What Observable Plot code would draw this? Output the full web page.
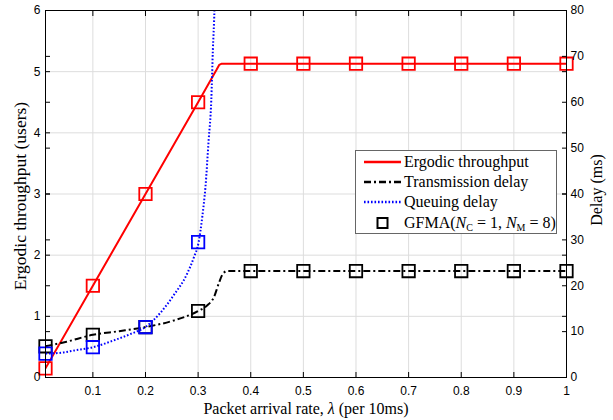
<!DOCTYPE html>
<html><head><meta charset="utf-8">
<script src="https://cdn.jsdelivr.net/npm/d3@7"></script>
<script src="https://cdn.jsdelivr.net/npm/@observablehq/plot@0.6"></script>
<style>
body{margin:0;background:#fff}
#wrap{position:relative;width:613px;height:420px}
#legend{position:absolute;left:355px;top:150px;width:200px;height:82px;border:1px solid #666;background:#fff;font-family:"Liberation Serif",serif;font-size:16px;color:#000}
.row{position:absolute;left:0;height:20px;display:flex;align-items:center;white-space:nowrap}
.row svg{margin-left:8px;margin-right:3px}
sub{font-size:10px;vertical-align:-3px;line-height:0}
</style></head>
<body><div id="wrap"><div id="legend"></div></div>
<script>
// ---- data ----
const xTicks = [0.1,0.2,0.3,0.4,0.5,0.6,0.7,0.8,0.9,1];
const leftTicks = [0,1,2,3,4,5,6];
const rightTicks = [0,10,20,30,40,50,60,70,80];
const markLambda = [0.01,0.1,0.2,0.3,0.4,0.5,0.6,0.7,0.8,0.9,1];
const thrMarks = [0.15,1.5,3.0,4.5,5.13,5.13,5.13,5.13,5.13,5.13,5.13];
const txMarks = [6.8,9.3,11.0,14.5,23.2,23.2,23.2,23.2,23.2,23.2,23.2];
const qLambda = [0.01,0.1,0.2,0.3];
const qMarks = [5.2,6.6,11.0,29.5];
const thrCurveX = [0.01,0.1,0.2,0.3,0.335,0.34,0.345,0.4,1];
const thrCurveY = [0.15,1.5,3.0,4.5,5.03,5.11,5.13,5.13,5.13];
const txCurveX = [0.01,0.05,0.1,0.15,0.2,0.25,0.3,0.317,0.33,0.339,0.347,0.355,0.4,1];
const txCurveY = [6.8,7.8,9.3,10.1,11.0,12.3,14.5,15.7,17.5,20.4,22.6,23.2,23.2,23.2];
const qCurveX = [0.01,0.04,0.065,0.1,0.14,0.172,0.2,0.229,0.254,0.279,0.292,0.301,0.308,0.314,0.32,0.325,0.328,0.331,0.334];
const qCurveY = [5.2,5.4,5.9,6.6,8.1,9.5,11.0,14.2,18.0,22.6,26.2,29.5,35.1,41.6,51.7,60.4,71.3,80,95];

// right axis (ms) mapped to left axis (users): 80 ms <-> 6 users
const k = 6/80;
const rows = (xs, ys, f=1) => xs.map((x,i)=>({x, y: ys[i]*f}));
const thrLine = rows(thrCurveX, thrCurveY);
const txLine = rows(txCurveX, txCurveY, k);
const qLine = rows(qCurveX, qCurveY, k);
const thrPts = rows(markLambda, thrMarks);
const txPts = rows(markLambda, txMarks, k);
const qPts = rows(qLambda, qMarks, k);

const RED = "#ff0000", BLUE = "#0000ff", BLACK = "#000000", GRID = "#dddddd";
const serif = "Liberation Serif, Times New Roman, serif";
const DASHDOT = "7,3,2,3", DOT = "1.6,1.9";

const plot = Plot.plot({
  width: 613, height: 420,
  marginLeft: 45, marginRight: 47, marginTop: 10, marginBottom: 43,
  style: {fontFamily: "Liberation Sans, Arial, sans-serif", fontSize: "12px", color: "#000", background: "#fff"},
  x: {domain: [0.01, 1]},
  y: {domain: [0, 6]},
  marks: [
    Plot.gridX(xTicks.slice(0, -1), {stroke: GRID, strokeOpacity: 1}),
    Plot.gridY(leftTicks.slice(1, -1), {stroke: GRID, strokeOpacity: 1}),
    Plot.line(thrLine, {x: "x", y: "y", stroke: RED, strokeWidth: 2, clip: true}),
    Plot.dot(thrPts, {x: "x", y: "y", symbol: "square", r: 7, stroke: RED, strokeWidth: 1.8, fill: "none"}),
    Plot.line(txLine, {x: "x", y: "y", stroke: BLACK, strokeWidth: 2, strokeDasharray: DASHDOT, strokeLinecap: "butt", curve: "monotone-x", clip: true}),
    Plot.dot(txPts, {x: "x", y: "y", symbol: "square", r: 7, stroke: BLACK, strokeWidth: 1.8, fill: "none"}),
    Plot.line(qLine, {x: "x", y: "y", stroke: BLUE, strokeWidth: 2, strokeDasharray: DOT, strokeLinecap: "butt", curve: "monotone-x", clip: true}),
    Plot.dot(qPts, {x: "x", y: "y", symbol: "square", r: 7, stroke: BLUE, strokeWidth: 1.8, fill: "none"}),
    Plot.frame({stroke: "#000"}),
    // bottom & top x axes (inward ticks)
    Plot.axisX(xTicks, {anchor: "bottom", tickSize: -5, tickPadding: 14, label: null, tickFormat: d => d === 1 ? "1" : String(d)}),
    Plot.axisX(xTicks, {anchor: "top", tickSize: -5, label: null, tickFormat: () => ""}),
    // left axis: labels in users, plus mirrored ms ticks
    Plot.axisY(leftTicks, {anchor: "left", tickSize: -5, tickPadding: 10, label: null, tickFormat: d => String(d)}),
    Plot.axisY(rightTicks.map(d => d*k), {anchor: "left", tickSize: -5, label: null, tickFormat: () => ""}),
    // right axis: labels in ms, plus mirrored users ticks
    Plot.axisY(rightTicks.map(d => d*k), {anchor: "right", tickSize: -5, tickPadding: 9, label: null, tickFormat: d => String(Math.round(d/k))}),
    Plot.axisY(leftTicks, {anchor: "right", tickSize: -5, label: null, tickFormat: () => ""}),
    // axis titles
    Plot.text(["Packet arrival rate, λ (per 10ms)"], {frameAnchor: "bottom", dy: 31, text: d => d, fontFamily: serif, fontSize: 16, lineAnchor: "middle", textAnchor: "middle"}),
    Plot.text(["Ergodic throughput (users)"], {frameAnchor: "left", dx: -25, dy: 2, rotate: -90, text: d => d, fontFamily: serif, fontSize: 17.5, lineAnchor: "middle", textAnchor: "middle"}),
    Plot.text(["Delay (ms)"], {frameAnchor: "right", dx: 30, dy: -4, rotate: -90, text: d => d, fontFamily: serif, fontSize: 16, lineAnchor: "middle", textAnchor: "middle"})
  ]
});

// italic lambda
d3.select(plot).selectAll("text").each(function() {
  const s = this.textContent;
  if (s.includes("λ") && this.children.length === 0) {
    const [a, b] = s.split("λ");
    const t = d3.select(this).text(null);
    t.append("tspan").text(a);
    t.append("tspan").attr("font-style", "italic").text("λ");
    t.append("tspan").text(b);
  }
});

const wrap = document.getElementById("wrap");
wrap.insertBefore(plot, wrap.firstChild);

// legend
const legendItems = [
  {label: "Ergodic throughput", stroke: RED, dash: null},
  {label: "Transmission delay", stroke: BLACK, dash: DASHDOT},
  {label: "Queuing delay", stroke: BLUE, dash: DOT},
  {label: 'GFMA(<i>N</i><sub>C</sub> = 1, <i>N</i><sub>M</sub> = 8)', stroke: null, square: true}
];
const tops = [1, 21, 41, 62];
const leg = document.getElementById("legend");
legendItems.forEach((it, i) => {
  const r = document.createElement("div");
  r.className = "row";
  r.style.top = tops[i] + "px";
  const sample = it.square
    ? `<svg width="37" height="14"><rect x="13.5" y="2" width="10" height="10" fill="none" stroke="#000" stroke-width="2"/></svg>`
    : `<svg width="37" height="6"><line x1="0" x2="37" y1="3" y2="3" stroke="${it.stroke}" stroke-width="2.5" ${it.dash ? `stroke-dasharray="${it.dash}"` : ""}/></svg>`;
  r.innerHTML = sample + `<span>${it.label}</span>`;
  leg.appendChild(r);
});
</script>
</body></html>
